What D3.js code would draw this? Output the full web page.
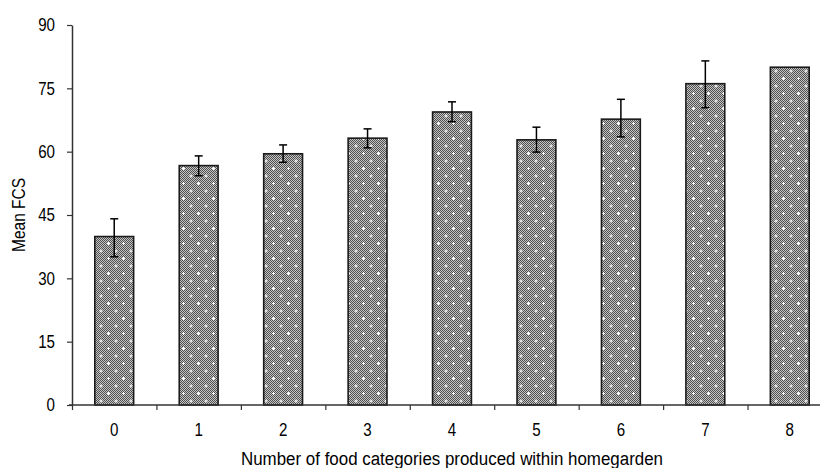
<!DOCTYPE html>
<html><head><meta charset="utf-8">
<script src="https://cdn.jsdelivr.net/npm/d3@7/dist/d3.min.js"></script>
<style>body{margin:0;background:#fff}svg{display:block}</style>
</head><body>
<script>
const categories = ["0","1","2","3","4","5","6","7","8"];
const meanFCS = [39.9, 56.7, 59.5, 63.2, 69.4, 62.8, 67.7, 76.1, 80.0];
const errLow  = [35.1, 54.3, 57.5, 60.9, 67.1, 59.9, 63.5, 70.4, null];
const errHigh = [44.1, 59.0, 61.6, 65.4, 71.8, 65.8, 72.4, 81.5, null];
const yTicks = [0, 15, 30, 45, 60, 75, 90];

const W = 820, H = 468;
const font = "'Liberation Sans Narrow','Arial Narrow','Liberation Sans',Arial,sans-serif";
const svg = d3.select("body").append("svg").attr("width", W).attr("height", H);

const defs = svg.append("defs");
const chk = defs.append("pattern").attr("id","chk").attr("patternUnits","userSpaceOnUse")
  .attr("width",2).attr("height",2);
chk.append("rect").attr("width",2).attr("height",2).attr("fill","#c4c4c4");
chk.append("rect").attr("width",1).attr("height",1).attr("fill","#505050");
chk.append("rect").attr("x",1).attr("y",1).attr("width",1).attr("height",1).attr("fill","#505050");
const crs = defs.append("pattern").attr("id","crs").attr("patternUnits","userSpaceOnUse")
  .attr("width",15).attr("height",15);
[[3.5,3.5],[11,11]].forEach(([cx,cy])=>{
  crs.append("rect").attr("x",cx-1.5).attr("y",cy-0.5).attr("width",3).attr("height",1).attr("fill","#fff");
  crs.append("rect").attr("x",cx-0.5).attr("y",cy-1.5).attr("width",1).attr("height",3).attr("fill","#fff");
});

const x0 = 72, x1 = 832, yTop = 25, yBot = 405;
const x = d3.scaleBand().domain(categories).range([x0, x1]).paddingInner(0.54).paddingOuter(0.27);
const y = d3.scaleLinear().domain([0, 90]).range([yBot, yTop]);
const xb = d3.scaleLinear().domain([0, categories.length]).range([x0, x1]);

const g = svg.append("g");
const bars = g.selectAll("g.bar").data(categories).join("g").attr("class","bar");
bars.append("rect").attr("x", d=>x(d)).attr("width", x.bandwidth())
  .attr("y", (d,i)=>y(meanFCS[i])).attr("height", (d,i)=>y(0)-y(meanFCS[i])).attr("fill","url(#chk)");
bars.append("rect").attr("x", d=>x(d)).attr("width", x.bandwidth())
  .attr("y", (d,i)=>y(meanFCS[i])).attr("height", (d,i)=>y(0)-y(meanFCS[i])).attr("fill","url(#crs)")
  .attr("stroke","#1a1a1a").attr("stroke-width",1.6);

const eb = g.selectAll("g.err").data(categories.filter((d,i)=>errLow[i]!=null)).join("g").attr("class","err")
  .attr("stroke","#000").attr("stroke-width",1.5);
eb.each(function(d){
  const i = categories.indexOf(d);
  const cx = x(d) + x.bandwidth()/2;
  const s = d3.select(this);
  s.append("line").attr("x1",cx).attr("x2",cx).attr("y1",y(errLow[i])).attr("y2",y(errHigh[i]));
  s.append("line").attr("x1",cx-4).attr("x2",cx+4).attr("y1",y(errLow[i])).attr("y2",y(errLow[i]));
  s.append("line").attr("x1",cx-4).attr("x2",cx+4).attr("y1",y(errHigh[i])).attr("y2",y(errHigh[i]));
});

function narrow(sel, f){
  sel.each(function(){ const L = this.getComputedTextLength(); d3.select(this).attr("textLength", L*f).attr("lengthAdjust","spacingAndGlyphs"); });
}

// Y axis
const ya = svg.append("g").attr("transform",`translate(${x0},0)`)
  .call(d3.axisLeft(y).tickValues(yTicks).tickSize(5).tickSizeOuter(0).tickPadding(12));
ya.select(".domain").attr("stroke","#333").attr("stroke-width",1.5);
ya.selectAll(".tick line").attr("stroke","#333").attr("stroke-width",1.2);
ya.selectAll("text").attr("font-family",font).attr("font-size",18).attr("fill","#000");
narrow(ya.selectAll("text"), 0.84);

// X axis ticks at band boundaries
const xa = svg.append("g").attr("transform",`translate(0,${yBot})`)
  .call(d3.axisBottom(xb).tickValues(d3.range(0, categories.length)).tickSize(5).tickSizeOuter(0).tickFormat(""));
xa.select(".domain").attr("stroke","#333").attr("stroke-width",1.5).attr("d",`M${x0-3},0H${x1}`);
xa.selectAll(".tick line").attr("stroke","#333").attr("stroke-width",1.2);
const xl = svg.append("g").attr("transform",`translate(0,${yBot})`)
  .call(d3.axisBottom(x).tickSize(0).tickPadding(18));
xl.select(".domain").remove();
xl.selectAll("text").attr("font-family",font).attr("font-size",18).attr("fill","#000");
narrow(xl.selectAll("text"), 0.84);

const xt = svg.append("text").attr("x",(x0+x1)/2).attr("y",465).attr("text-anchor","middle")
  .attr("font-family",font).attr("font-size",18).text("Number of food categories produced within homegarden");
xt.attr("textLength", 422).attr("lengthAdjust","spacingAndGlyphs");
const yt = svg.append("text").attr("transform",`translate(25,${(yTop+yBot)/2}) rotate(-90)`).attr("text-anchor","middle")
  .attr("font-family",font).attr("font-size",18).text("Mean FCS");
narrow(yt, 0.86);
</script>
</body></html>
